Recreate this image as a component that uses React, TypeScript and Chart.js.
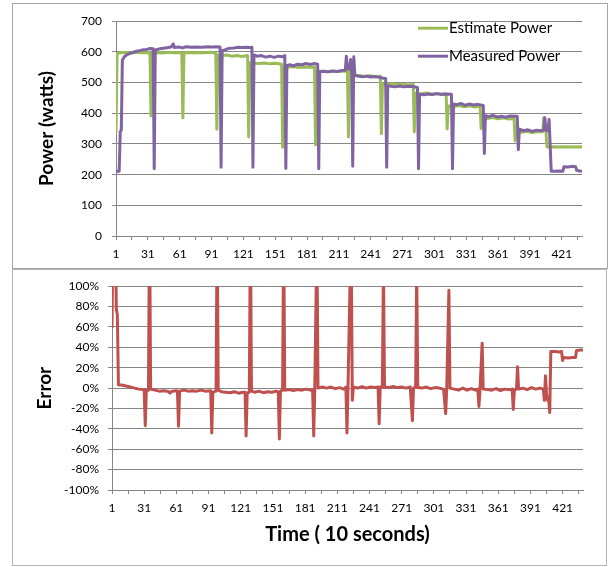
import React, { useEffect, useRef } from 'react';
import { Chart, registerables } from 'chart.js';

Chart.register(...registerables);

// ---------- data ----------
const xTickMarks = [1, 16, 31, 46, 61, 76, 91, 106, 121, 136, 151, 166, 181, 196, 211, 226, 241, 256, 271, 286, 301, 316, 331, 346, 361, 376, 391, 406, 421, 436];
const xTickLabels = [1, 31, 61, 91, 121, 151, 181, 211, 241, 271, 301, 331, 361, 391, 421];
const seriesNames = ['Estimate Power', 'Measured Power'];

// [time index, watts]
const estimatePower: [number, number][] = [
  [1, 335], [2, 595], [5, 597], [10, 598], [15, 596], [20, 599], [25, 597], [30, 598], [33, 597], [34, 391], [35, 597],
  [40, 598], [45, 596], [50, 599], [55, 597], [60, 598], [63, 597], [64, 385], [65, 597], [70, 598], [75, 596],
  [80, 598], [85, 597], [90, 599], [95, 596], [96, 348], [97, 590], [101, 588], [106, 590], [110, 586], [115, 588],
  [120, 585], [125, 588], [126, 323], [127, 565], [131, 563], [136, 562], [141, 564], [146, 561], [151, 563], [157, 560],
  [158, 289], [159, 551], [163, 550], [168, 552], [173, 549], [178, 551], [183, 550], [188, 551], [189, 297], [190, 536],
  [195, 537], [200, 535], [205, 537], [210, 536], [215, 537], [219, 537], [220, 323], [221, 540], [222, 523], [225, 521],
  [230, 523], [235, 520], [240, 522], [245, 519], [250, 521], [251, 333], [252, 495], [256, 494], [261, 496], [266, 493],
  [271, 495], [276, 492], [281, 494], [282, 339], [283, 465], [288, 463], [293, 466], [298, 462], [303, 464], [308, 461],
  [312, 463], [313, 349], [314, 424], [319, 422], [324, 425], [329, 421], [334, 424], [339, 420], [344, 423], [345, 350],
  [346, 385], [351, 383], [356, 386], [361, 382], [366, 385], [371, 381], [376, 383], [377, 310], [378, 340], [383, 338],
  [388, 341], [393, 337], [398, 340], [403, 340], [404, 385], [405, 345], [406, 345], [407, 290], [412, 291], [418, 290],
  [424, 291], [430, 290], [436, 291], [440, 290],
];

const measuredPower: [number, number][] = [
  [1, 211], [4, 211], [5, 340], [6, 345], [7, 573], [9, 585], [11, 590], [14, 595], [17, 598], [20, 602], [23, 604],
  [27, 607], [30, 608], [33, 611], [36, 610], [37, 219], [38, 606], [42, 610], [46, 612], [50, 614], [53, 616], [55, 626],
  [56, 614], [60, 616], [64, 613], [67, 617], [72, 615], [77, 616], [82, 615], [87, 617], [92, 616], [96, 617], [99, 616],
  [100, 224], [101, 604], [104, 607], [108, 612], [112, 613], [116, 615], [120, 614], [124, 615], [128, 614], [129, 615],
  [130, 224], [131, 590], [134, 586], [138, 588], [142, 583], [146, 586], [150, 582], [154, 586], [158, 584], [160, 588],
  [161, 220], [162, 556], [165, 558], [168, 554], [172, 560], [176, 558], [180, 562], [184, 559], [188, 562], [191, 560],
  [192, 219], [193, 535], [197, 537], [201, 535], [205, 538], [209, 536], [213, 539], [217, 540], [218, 586], [219, 545],
  [221, 545], [222, 575], [223, 560], [224, 227], [225, 584], [226, 525], [229, 521], [233, 519], [237, 521], [241, 518],
  [245, 520], [249, 517], [253, 514], [255, 513], [256, 224], [257, 490], [260, 488], [264, 486], [268, 489], [272, 486],
  [276, 488], [280, 487], [285, 484], [286, 219], [287, 462], [291, 460], [295, 463], [299, 461], [303, 464], [307, 462],
  [311, 463], [317, 462], [318, 219], [319, 430], [322, 428], [326, 432], [330, 426], [334, 430], [338, 427], [342, 429],
  [347, 425], [348, 269], [349, 392], [352, 389], [356, 393], [360, 388], [364, 390], [368, 387], [372, 391], [379, 390],
  [380, 281], [381, 348], [385, 343], [389, 346], [393, 341], [397, 345], [401, 343], [404, 345], [405, 385], [406, 345],
  [408, 343], [409, 380], [411, 211], [414, 211], [418, 212], [422, 211], [423, 226], [427, 225], [431, 227], [434, 226],
  [435, 214], [438, 212], [440, 211],
];

// [time index, error %]
const errorPct: [number, number][] = [
  [1, 59], [2, 183], [4, 183], [5, 78], [6, 72], [7, 3], [10, 3], [14, 2], [18, 1], [22, 0], [26, -1], [30, -1.5],
  [31, -2], [32, -37], [33, -2], [35, -2], [36, 175], [37, -1], [41, -2], [45, -3], [49, -2.5], [53, -3], [55, -5],
  [57, -3], [61, -2.5], [62, -3], [63, -37.5], [64, -3], [68, -2], [72, -3], [76, -2.5], [80, -3], [84, -2], [88, -3],
  [93, -2.5], [94, -44], [95, -4], [98, -3], [99, 168], [100, -2], [103, -3.5], [107, -4], [111, -4.5], [115, -3.5],
  [119, -5], [123, -4], [125, -4], [126, -47], [127, -5], [129, -4], [130, 163], [131, -3], [134, -4], [138, -3],
  [142, -4.5], [146, -3.5], [150, -4], [154, -3], [156, -4], [157, -50], [158, -3], [160, -2], [161, 158], [162, -2],
  [166, -1.5], [170, -2.5], [174, -1.5], [178, -2], [182, -1], [186, -2], [188, -2], [189, -47], [190, -1], [192, 150],
  [193, 0], [197, 1], [201, 0], [205, 1], [209, -0.5], [213, 0.5], [217, -1], [219, 1], [220, -44], [221, 2], [223, 110],
  [224, 130], [225, -12], [226, 1], [230, 0], [234, 1.5], [238, 0], [242, 1], [246, 0.5], [249, 1], [250, -35], [251, 1],
  [253, 1], [254, 120], [255, 1], [259, 0.5], [263, 1.5], [267, 0.5], [271, 1], [275, 0], [279, 1], [281, -32], [282, 0],
  [284, 1], [285, 115], [286, 0.5], [290, 0], [294, 1], [298, -0.5], [302, 0.5], [306, 0], [310, -1], [312, -25],
  [313, -1], [315, 96], [316, 0], [320, -1], [324, -2], [328, 0], [332, -2], [336, -0.5], [340, -2], [342, -1],
  [343, -18], [344, -2], [346, 44], [347, -1], [351, -1.5], [355, -2], [359, -0.5], [363, -2.5], [367, -1], [371, -1.5],
  [374, -1], [375, -21], [376, -2], [378, -1], [379, 21], [380, -1], [384, 0], [388, -1.5], [392, 0.5], [396, -1],
  [400, 0], [403, -1], [404, -12], [405, 12], [406, -5], [407, -12], [408, -10], [409, -24], [410, 36], [414, 36],
  [418, 35.5], [420, 36], [421, 27], [422, 30], [426, 29.5], [430, 30], [433, 30], [434, 37], [438, 37.5], [440, 37],
];

// ---------- styles ----------
const GREEN = '#9BBB59';
const PURPLE = '#8064A2';
const RED = '#C0504D';
const GRID = '#868686';
const FAMILY = 'Lato, "Open Sans", sans-serif';
const tickFont = { family: FAMILY, size: 12 };

const toXY = (arr: [number, number][]) => arr.map(([x, y]) => ({ x, y }));

const xScale = (height: number, title?: any) => ({
  type: 'linear' as const,
  min: 1,
  max: 440,
  afterBuildTicks: (s: any) => {
    s.ticks = xTickMarks.map((v) => ({ value: v }));
  },
  afterFit: (s: any) => {
    s.height = height;
  },
  ticks: {
    autoSkip: false,
    maxRotation: 0,
    minRotation: 0,
    padding: 7,
    font: tickFont,
    color: '#000',
    callback: (v: any) => (xTickLabels.includes(Number(v)) ? String(v) : ''),
  },
  grid: { drawOnChartArea: false, drawTicks: true, tickLength: 4, color: GRID, lineWidth: 1 },
  border: { display: true, color: GRID, width: 1 },
  title: title || { display: false },
});

const legendPlugin = {
  id: 'insideLegend',
  afterDatasetsDraw(chart: any) {
    const { ctx, chartArea } = chart;
    const colors = [GREEN, PURPLE];
    ctx.save();
    seriesNames.forEach((name, i) => {
      const y = chartArea.top + 7 + i * 28;
      const x0 = chartArea.right - 164;
      ctx.strokeStyle = colors[i];
      ctx.lineWidth = 3;
      ctx.beginPath();
      ctx.moveTo(x0, y);
      ctx.lineTo(x0 + 30, y);
      ctx.stroke();
      ctx.fillStyle = '#000';
      ctx.font = `15px ${FAMILY}`;
      ctx.textBaseline = 'middle';
      ctx.textAlign = 'left';
      ctx.fillText(name, x0 + 31, y);
    });
    ctx.restore();
  },
};

function PowerChart() {
  const ref = useRef<HTMLCanvasElement>(null);
  useEffect(() => {
    const chart = new Chart(ref.current as HTMLCanvasElement, {
      type: 'line',
      data: {
        datasets: [
          { label: seriesNames[0], data: toXY(estimatePower), borderColor: GREEN, backgroundColor: GREEN, borderWidth: 3, pointRadius: 0, tension: 0, order: 2, borderJoinStyle: 'round' },
          { label: seriesNames[1], data: toXY(measuredPower), borderColor: PURPLE, backgroundColor: PURPLE, borderWidth: 3, pointRadius: 0, tension: 0, order: 1, borderJoinStyle: 'round' },
        ],
      },
      options: {
        animation: false,
        responsive: false,
        events: [],
        layout: { padding: { top: 15, right: 25, bottom: 0, left: 0 } },
        plugins: { legend: { display: false }, tooltip: { enabled: false } },
        scales: {
          x: xScale(32) as any,
          y: {
            min: 0,
            max: 700,
            afterFit: (s: any) => {
              s.width = 103;
            },
            ticks: { stepSize: 100, padding: 10, font: tickFont, color: '#000' },
            grid: { color: GRID, tickLength: 4, lineWidth: 1 },
            border: { display: true, color: GRID, width: 1 },
            title: {
              display: true,
              text: 'Power (watts)',
              color: '#000',
              font: { family: FAMILY, size: 19, weight: 'bold' },
              padding: { top: 22, bottom: 0 },
            },
          },
        },
      },
      plugins: [legendPlugin],
    });
    return () => chart.destroy();
  }, []);
  return <canvas ref={ref} width={594} height={264} style={{ display: 'block', width: 594, height: 264 }} />;
}

function ErrorChart() {
  const ref = useRef<HTMLCanvasElement>(null);
  useEffect(() => {
    const chart = new Chart(ref.current as HTMLCanvasElement, {
      type: 'line',
      data: {
        datasets: [
          { label: 'Error', data: toXY(errorPct), borderColor: RED, backgroundColor: RED, borderWidth: 3, pointRadius: 0, tension: 0, borderJoinStyle: 'round' },
        ],
      },
      options: {
        animation: false,
        responsive: false,
        events: [],
        layout: { padding: { top: 14, right: 23, bottom: 0, left: 0 } },
        plugins: { legend: { display: false }, tooltip: { enabled: false } },
        scales: {
          x: xScale(75, {
            display: true,
            text: 'Time ( 10 seconds)',
            color: '#000',
            font: { family: FAMILY, size: 20, weight: 'bold' },
            padding: { top: 0, bottom: 18 },
          }) as any,
          y: {
            min: -100,
            max: 100,
            afterFit: (s: any) => {
              s.width = 99;
            },
            ticks: { stepSize: 20, padding: 9, font: tickFont, color: '#000', callback: (v: any) => `${v}%` },
            grid: { color: GRID, tickLength: 4, lineWidth: 1 },
            border: { display: true, color: GRID, width: 1 },
            title: {
              display: true,
              text: 'Error',
              color: '#000',
              font: { family: FAMILY, size: 19, weight: 'bold' },
              padding: { top: 20, bottom: 0 },
            },
          },
        },
      },
    });
    return () => chart.destroy();
  }, []);
  return <canvas ref={ref} width={593} height={295} style={{ display: 'block', width: 593, height: 295 }} />;
}

export default function App() {
  return (
    <div style={{ position: 'absolute', left: 0, top: 0, width: 613, height: 567, background: '#fff', overflow: 'hidden' }}>
      <div style={{ position: 'absolute', left: 12, top: 3, width: 594, height: 264, border: '1px solid #a6a6a6', background: '#fff' }}>
        <PowerChart />
      </div>
      <div style={{ position: 'absolute', left: 12, top: 269, width: 593, height: 295, border: '1px solid #b4b4b4', background: '#fff' }}>
        <ErrorChart />
      </div>
    </div>
  );
}
